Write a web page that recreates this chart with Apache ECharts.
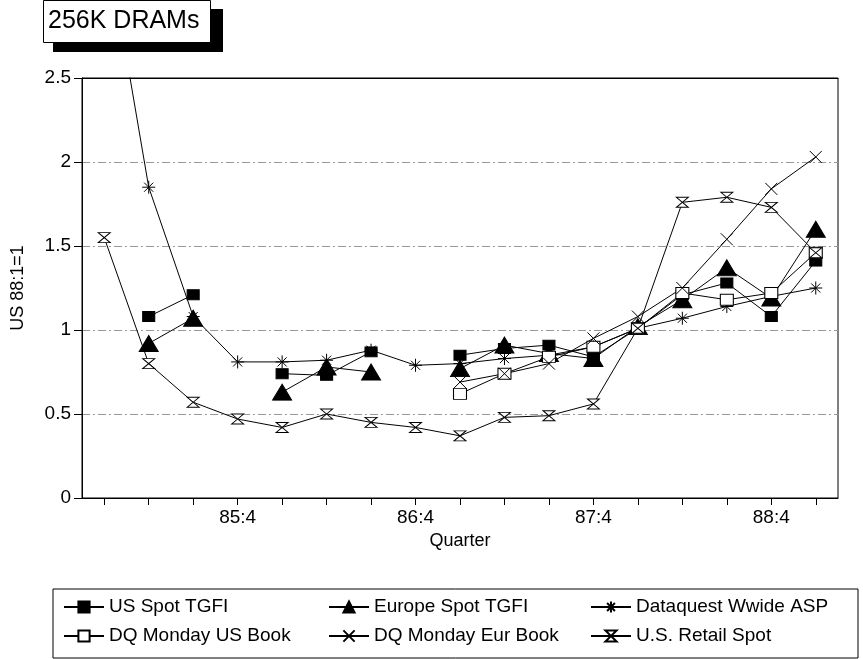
<!DOCTYPE html>
<html>
<head>
<meta charset="utf-8">
<script src="https://cdn.jsdelivr.net/npm/echarts@6/dist/echarts.min.js"></script>
<style>
html,body{margin:0;padding:0;background:#fff;}
#chart{width:863px;height:659px;}
</style>
</head>
<body>
<div id="chart"></div>
<script>
// Categories (quarters 85:1 .. 89:1)
const categories = ['85:1','85:2','85:3','85:4','86:1','86:2','86:3','86:4','87:1','87:2','87:3','87:4','88:1','88:2','88:3','88:4','89:1'];
const yTicks = [0, 0.5, 1, 1.5, 2, 2.5];

const usSpotTGFI      = [null, 1.08, 1.21, null, 0.74, 0.73, 0.87, null, 0.85, 0.89, 0.91, 0.84, 1.01, 1.21, 1.28, 1.08, 1.41];
const europeSpotTGFI  = [null, 0.92, 1.07, null, 0.63, 0.78, 0.75, null, 0.77, 0.91, 0.86, 0.83, 1.02, 1.18, 1.37, 1.19, 1.60];
const dataquestASP    = [3.4, 1.85, 1.08, 0.81, 0.81, 0.82, 0.88, 0.79, 0.80, 0.83, 0.85, 0.90, 1.01, 1.07, 1.14, 1.20, 1.25];
const dqMondayUSBook  = [null, null, null, null, null, null, null, null, 0.62, 0.74, 0.84, 0.90, 1.01, 1.22, 1.18, 1.22, 1.46];
const dqMondayEurBook = [null, null, null, null, null, null, null, null, 0.69, 0.74, 0.80, 0.95, 1.08, 1.25, 1.54, 1.84, 2.03];
const usRetailSpot    = [1.55, 0.80, 0.57, 0.47, 0.42, 0.50, 0.45, 0.42, 0.37, 0.48, 0.49, 0.56, 1.01, 1.76, 1.79, 1.73, 1.46];

const FONT = '"Liberation Sans", Arial, Helvetica, sans-serif';
const asterisk = 'path://M0,5 L10,5 M5,0 L5,10 M1.5,1.5 L8.5,8.5 M8.5,1.5 L1.5,8.5';
const cross = 'path://M0,0 L10,10 M10,0 L0,10';
const hourglass = 'path://M0,0 L10,0 L0,10 L10,10 Z';

function mk(name, data, symbol, size, fill) {
  return {
    name: name, type: 'line', data: data,
    symbol: symbol, symbolSize: size, showAllSymbol: true,
    connectNulls: false, clip: true,
    lineStyle: { color: '#000', width: 1 },
    itemStyle: { color: fill, borderColor: '#000', borderWidth: 1 },
    emphasis: { disabled: true },
    animation: false
  };
}

const chart = echarts.init(document.getElementById('chart'));
const legendCommon = {
  orient: 'vertical', top: 596, padding: 0, itemGap: 7,
  itemWidth: 40, itemHeight: 14,
  textStyle: { fontSize: 19, color: '#000', fontFamily: FONT, lineHeight: 22 },
  selectedMode: false
};
chart.setOption({
  backgroundColor: '#fff',
  animation: false,
  title: {
    text: '256K DRAMs', left: 43, top: 0,
    padding: [9, 11, 9, 5],
    backgroundColor: '#fff', borderColor: '#000', borderWidth: 1,
    textStyle: { fontSize: 25, fontWeight: 'normal', color: '#000', fontFamily: FONT }
  },
  graphic: [
    { type: 'rect', shape: { x: 53, y: 9, width: 170, height: 43 }, style: { fill: '#000' }, z: 1 },
    { type: 'rect', shape: { x: 53, y: 589, width: 805, height: 69 }, style: { fill: 'none', stroke: '#000', lineWidth: 1 }, z: 1 }
  ],
  legend: [
    Object.assign({ left: 63, data: ['US Spot TGFI', 'DQ Monday US Book'] }, legendCommon),
    Object.assign({ left: 328, data: ['Europe Spot TGFI', 'DQ Monday Eur Book'] }, legendCommon),
    Object.assign({ left: 590, data: ['Dataquest Wwide ASP', 'U.S. Retail Spot'] }, legendCommon)
  ],
  grid: { left: 82, right: 25, top: 78, bottom: 161, containLabel: false, outerBoundsMode: 'none', show: true, borderColor: '#000', borderWidth: 1, backgroundColor: 'transparent' },
  xAxis: [{
    type: 'category', data: categories, boundaryGap: true,
    name: 'Quarter', nameLocation: 'middle', nameGap: 33,
    nameTextStyle: { fontSize: 18, color: '#000', fontFamily: FONT },
    axisLine: { lineStyle: { color: '#000', width: 1 } },
    axisTick: { show: true, alignWithLabel: true, interval: 0, length: 7, lineStyle: { color: '#000' } },
    axisLabel: { interval: function (i, v) { return v.slice(-2) === ':4'; }, margin: 10, fontSize: 19, color: '#000', fontFamily: FONT },
    splitLine: { show: false }
  }, {
    type: 'category', data: categories, position: 'top', z: 10,
    axisLine: { show: true, lineStyle: { color: '#000', width: 1 } },
    axisTick: { show: false }, axisLabel: { show: false }, splitLine: { show: false }
  }],
  yAxis: {
    type: 'value', min: yTicks[0], max: yTicks[yTicks.length - 1], interval: 0.5,
    name: 'US 88:1=1', nameLocation: 'middle', nameGap: 55, nameRotate: 90,
    nameTextStyle: { fontSize: 18, color: '#000', fontFamily: FONT },
    axisLine: { show: true, lineStyle: { color: '#000', width: 1 } },
    axisTick: { show: true, length: 8, lineStyle: { color: '#000' } },
    axisLabel: { margin: 11, fontSize: 19, color: '#000', fontFamily: FONT },
    splitLine: { show: true, lineStyle: { color: '#999', width: 1, type: [8, 3, 2, 3] } }
  },
  series: [
    mk('US Spot TGFI', usSpotTGFI, 'rect', [12, 10], '#000'),
    mk('Europe Spot TGFI', europeSpotTGFI, 'triangle', [19, 16], '#000'),
    mk('Dataquest Wwide ASP', dataquestASP, asterisk, 13, '#fff'),
    mk('DQ Monday US Book', dqMondayUSBook, 'rect', [13, 11], '#fff'),
    mk('DQ Monday Eur Book', dqMondayEurBook, cross, 12, '#fff'),
    mk('U.S. Retail Spot', usRetailSpot, hourglass, [12, 10], '#fff')
  ]
});
</script>
</body>
</html>
